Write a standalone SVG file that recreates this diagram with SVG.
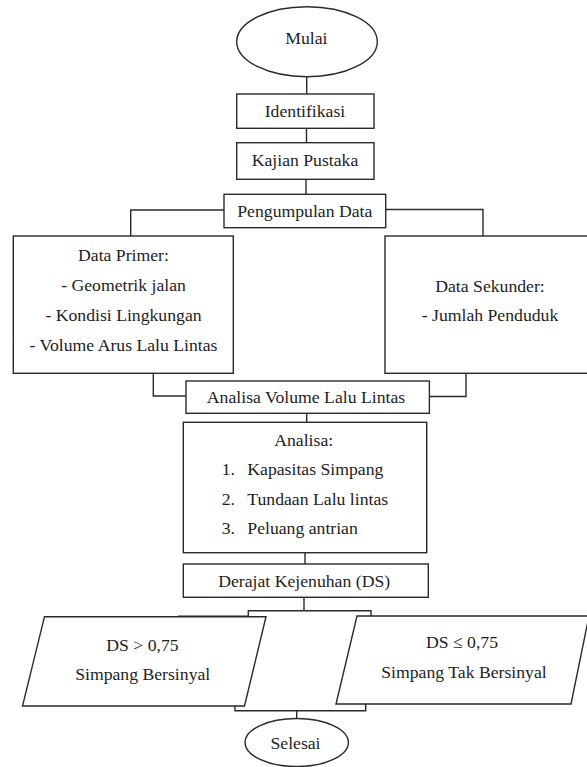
<svg xmlns="http://www.w3.org/2000/svg" width="587" height="767" viewBox="0 0 587 767">
<style>
.s{fill:#fff;stroke:#2a2a2a;stroke-width:1.4}
.c{fill:none;stroke:#2a2a2a;stroke-width:1.4}
text{font-family:'Liberation Serif','DejaVu Serif',serif;font-size:17.7px;fill:#1e1e1e}
.m{text-anchor:middle}
</style>
<rect width="587" height="767" fill="#fff"/>
<g id="connectors">
<path class="c" d="M306.7,76.7V94"/>
<path class="c" d="M306.5,128.3V142.7"/>
<path class="c" d="M306,179.3V194.3"/>
<path class="c" d="M224,210H130.7V236"/>
<path class="c" d="M385.7,209.5H483V236"/>
<path class="c" d="M153.3,373.3V396H186"/>
<path class="c" d="M466,373.3V396.5H429.4"/>
<path class="c" d="M306.7,413.3V422.3"/>
<path class="c" d="M305,552.7V564"/>
<path class="c" d="M304,597.3V610.7"/>
<path class="c" d="M178,616.2H248.3V610.7H371V616"/>
<path class="c" d="M235,706V710.7H365.7V704"/>
<path class="c" d="M296.7,710.7V718.3"/>
</g>
<g id="mulai">
<ellipse class="s" cx="307" cy="41.7" rx="70.3" ry="35"/>
<text class="m" x="306.3" y="43.5">Mulai</text>
</g>
<g id="identifikasi">
<rect class="s" x="236.7" y="94" width="137.3" height="34.3"/>
<text class="m" x="305" y="117.3">Identifikasi</text>
</g>
<g id="kajian">
<rect class="s" x="236.7" y="142.7" width="137.3" height="36.6"/>
<text class="m" x="305" y="165.7">Kajian Pustaka</text>
</g>
<g id="pengumpulan">
<rect class="s" x="224" y="194.3" width="161.7" height="33.4"/>
<text class="m" x="304.8" y="216.7">Pengumpulan Data</text>
</g>
<g id="data-primer">
<rect class="s" x="13.3" y="236" width="220" height="137.3"/>
<text class="m" x="123.5" y="261">Data Primer:</text>
<text class="m" x="123.5" y="291">- Geometrik jalan</text>
<text class="m" x="123.5" y="320.7">- Kondisi Lingkungan</text>
<text class="m" x="123.5" y="351">- Volume Arus Lalu Lintas</text>
</g>
<g id="data-sekunder">
<rect class="s" x="385" y="236" width="212" height="137.3"/>
<text class="m" x="490" y="292">Data Sekunder:</text>
<text class="m" x="490" y="320.7">- Jumlah Penduduk</text>
</g>
<g id="analisa-volume">
<rect class="s" x="186" y="381" width="243.4" height="32.3"/>
<text class="m" x="306" y="403.3">Analisa Volume Lalu Lintas</text>
</g>
<g id="analisa">
<rect class="s" x="183.3" y="422.3" width="243.4" height="130.4"/>
<text class="m" x="303.7" y="446">Analisa:</text>
<text x="221.7" y="475">1.</text>
<text x="247.3" y="475">Kapasitas Simpang</text>
<text x="221.7" y="504.5">2.</text>
<text x="247.3" y="504.5">Tundaan Lalu lintas</text>
<text x="221.7" y="534">3.</text>
<text x="247.3" y="534">Peluang antrian</text>
</g>
<g id="derajat">
<rect class="s" x="183.3" y="564" width="245" height="33.3"/>
<text class="m" x="304.2" y="586.7">Derajat Kejenuhan (DS)</text>
</g>
<g id="bersinyal">
<polygon class="s" points="44.5,616.7 266,616.7 244.5,706 22.5,706"/>
<text class="m" x="142.5" y="650.5">DS &gt; 0,75</text>
<text class="m" x="142.7" y="680">Simpang Bersinyal</text>
</g>
<g id="tak-bersinyal">
<polygon class="s" points="357,616 589,616 571,704 336,704"/>
<text class="m" x="462" y="648">DS ≤ 0,75</text>
<text class="m" x="464" y="678">Simpang Tak Bersinyal</text>
</g>
<g id="selesai">
<ellipse class="s" cx="296.7" cy="742.5" rx="51.7" ry="24"/>
<text class="m" x="295.5" y="749.3">Selesai</text>
</g>
</svg>
